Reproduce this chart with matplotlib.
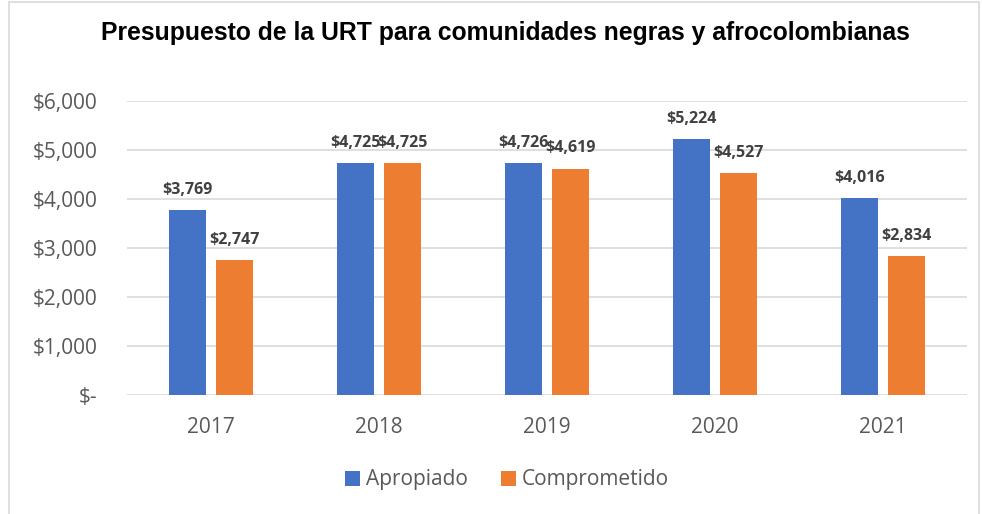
import matplotlib
matplotlib.use('Agg')
import matplotlib.pyplot as plt
from matplotlib.patches import Rectangle
import numpy as np

years = ['2017', '2018', '2019', '2020', '2021']
apropiado = [3769, 4725, 4726, 5224, 4016]
comprometido = [2747, 4725, 4619, 4527, 2834]
yticks = [0, 1000, 2000, 3000, 4000, 5000, 6000]
yticklabels = ['$-', '$1,000', '$2,000', '$3,000', '$4,000', '$5,000', '$6,000']

blue = '#4472C4'
orange = '#ED7D31'

fig = plt.figure(figsize=(9.82, 5.14), dpi=100)
ax = fig.add_axes([127 / 982, 1 - 395 / 514, 840 / 982, 294 / 514])

# marco del grafico
fig.patches.append(Rectangle((9 / 982, -0.01), 970 / 982, 1 - 2 / 514 + 0.01,
                             transform=fig.transFigure, fill=False,
                             edgecolor='#D9D9D9', linewidth=1.2))

x = np.arange(len(years))
w = 0.22
off = 0.14
b1 = ax.bar(x - off, apropiado, w, color=blue, label='Apropiado', zorder=3)
b2 = ax.bar(x + off, comprometido, w, color=orange, label='Comprometido', zorder=3)

for bars in (b1, b2):
    for r in bars:
        ax.annotate('${:,}'.format(int(r.get_height())),
                    (r.get_x() + r.get_width() / 2, r.get_height()),
                    xytext=(0, 9), textcoords='offset points',
                    ha='center', va='bottom', fontsize=11.5, fontweight='bold',
                    color='#404040', family='Open Sans')

ax.set_xlim(-0.5, len(years) - 0.5)
ax.set_ylim(0, 6000)
ax.set_yticks(yticks)
ax.set_yticklabels(yticklabels)
ax.set_xticks(x)
ax.set_xticklabels(years)
ax.tick_params(length=0, labelsize=15, labelcolor='#595959')
ax.tick_params(axis='y', pad=21)
ax.tick_params(axis='x', pad=16)
for lab in ax.get_xticklabels() + ax.get_yticklabels():
    lab.set_family('Open Sans')
ax.grid(axis='y', color='#D9D9D9', linewidth=1.2, zorder=0)
for s in ax.spines.values():
    s.set_visible(False)

fig.text(0.515, 1 - 33 / 514, 'Presupuesto de la URT para comunidades negras y afrocolombianas',
         ha='center', va='center', fontsize=17.8, fontweight='bold',
         family='Liberation Sans', color='black')

leg = fig.legend(handles=[b1, b2], loc='center', bbox_to_anchor=(507 / 982, 1 - 480 / 514),
                 ncol=2, frameon=False, handlelength=0.7, handleheight=0.7,
                 handletextpad=0.3, columnspacing=1.6,
                 prop={'family': 'Open Sans', 'size': 15})
for t in leg.get_texts():
    t.set_color('#595959')

fig.savefig('out.png', dpi=100)
